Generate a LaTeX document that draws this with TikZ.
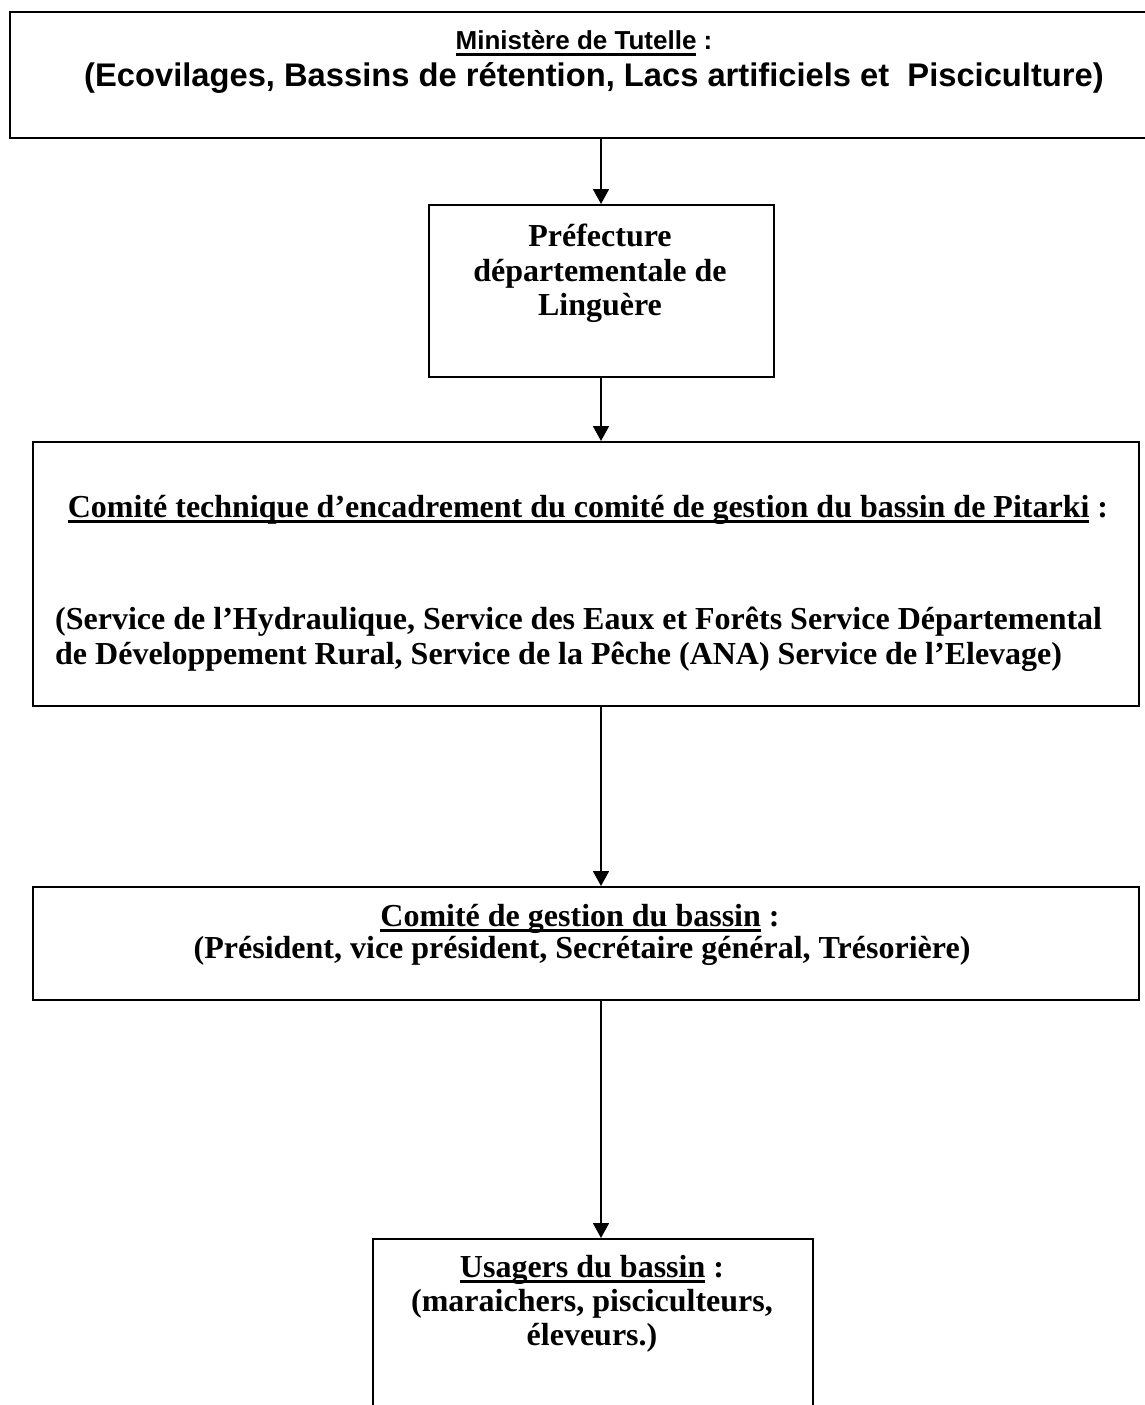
\documentclass[tikz,border=0pt]{standalone}
\usepackage{fontspec}
\setmainfont{Liberation Serif}
\newfontfamily\arialf{Liberation Sans}
\usetikzlibrary{arrows.meta}
\newcommand{\ulbox}[1]{\leavevmode\setbox0\hbox{#1}\rlap{\rule[-6pt]{\wd0}{2.6pt}}\box0\relax}
\begin{document}
\begin{tikzpicture}[x=1pt,y=-1pt,
  box/.style={draw=black, line width=2pt, inner sep=0pt},
  arr/.style={line width=1.8pt, -{Triangle[length=15pt,width=16pt]}},
  ser/.style={font=\bfseries\fontsize{32}{34}\selectfont, inner sep=0pt},
  arione/.style={font=\arialf\bfseries\fontsize{26}{30}\selectfont, inner sep=0pt},
  aritwo/.style={font=\arialf\bfseries\fontsize{32.7}{36}\selectfont, inner sep=0pt}]
\useasboundingbox (0,0) rectangle (1145,1405);
\fill[white] (0,0) rectangle (1145,1405);
\clip (0,0) rectangle (1145,1405);
% boxes
\node[box, minimum width=1160pt, minimum height=126pt] (top) at (590,75) {};
\node[box, minimum width=345pt, minimum height=172pt] (pref) at (601,291) {};
\node[box, minimum width=1106pt, minimum height=264pt] (tech) at (586,574) {};
\node[box, minimum width=1106pt, minimum height=113pt] (gest) at (586,943.5) {};
\node[box, minimum width=440pt, minimum height=181pt] (usag) at (593,1329.5) {};
% texts
\node[arione, anchor=base] (t1) at (584,50) {\ulbox{Ministère de Tutelle} :};
\node[aritwo, anchor=base] (t2) at (594,86) {(Ecovilages, Bassins de rétention, Lacs artificiels et\ \ Pisciculture)};
\node[ser, anchor=base] (p1) at (600,246) {Préfecture};
\node[ser, anchor=base] (p2) at (600,281) {départementale de};
\node[ser, anchor=base] (p3) at (600,315) {Linguère};
\node[ser, anchor=base] (c1) at (588,517) {\ulbox{Comité technique d’encadrement du comité de gestion du bassin de Pitarki} :};
\node[ser, anchor=base west] (c2) at (55,629) {(Service de l’Hydraulique, Service des Eaux et Forêts Service Départemental};
\node[ser, anchor=base west] (c3) at (55,664) {de Développement Rural, Service de la Pêche (ANA) Service de l’Elevage)};
\node[ser, anchor=base] (g1) at (580,926) {\ulbox{Comité de gestion du bassin} :};
\node[ser, anchor=base] (g2) at (582,958) {(Président, vice président, Secrétaire général, Trésorière)};
\node[ser, anchor=base] (u1) at (592,1277) {\ulbox{Usagers du bassin} :};
\node[ser, anchor=base] (u2) at (592,1311) {(maraichers, pisciculteurs,};
\node[ser, anchor=base] (u3) at (592,1345) {éleveurs.)};
% connectors
\draw[arr] (top.south -| pref.north) -- (pref.north);
\draw[arr] (pref.south) -- (pref.south |- tech.north);
\draw[arr] (pref.south |- tech.south) -- (pref.south |- gest.north);
\draw[arr] (pref.south |- gest.south) -- (pref.south |- usag.north);
\end{tikzpicture}
\end{document}
